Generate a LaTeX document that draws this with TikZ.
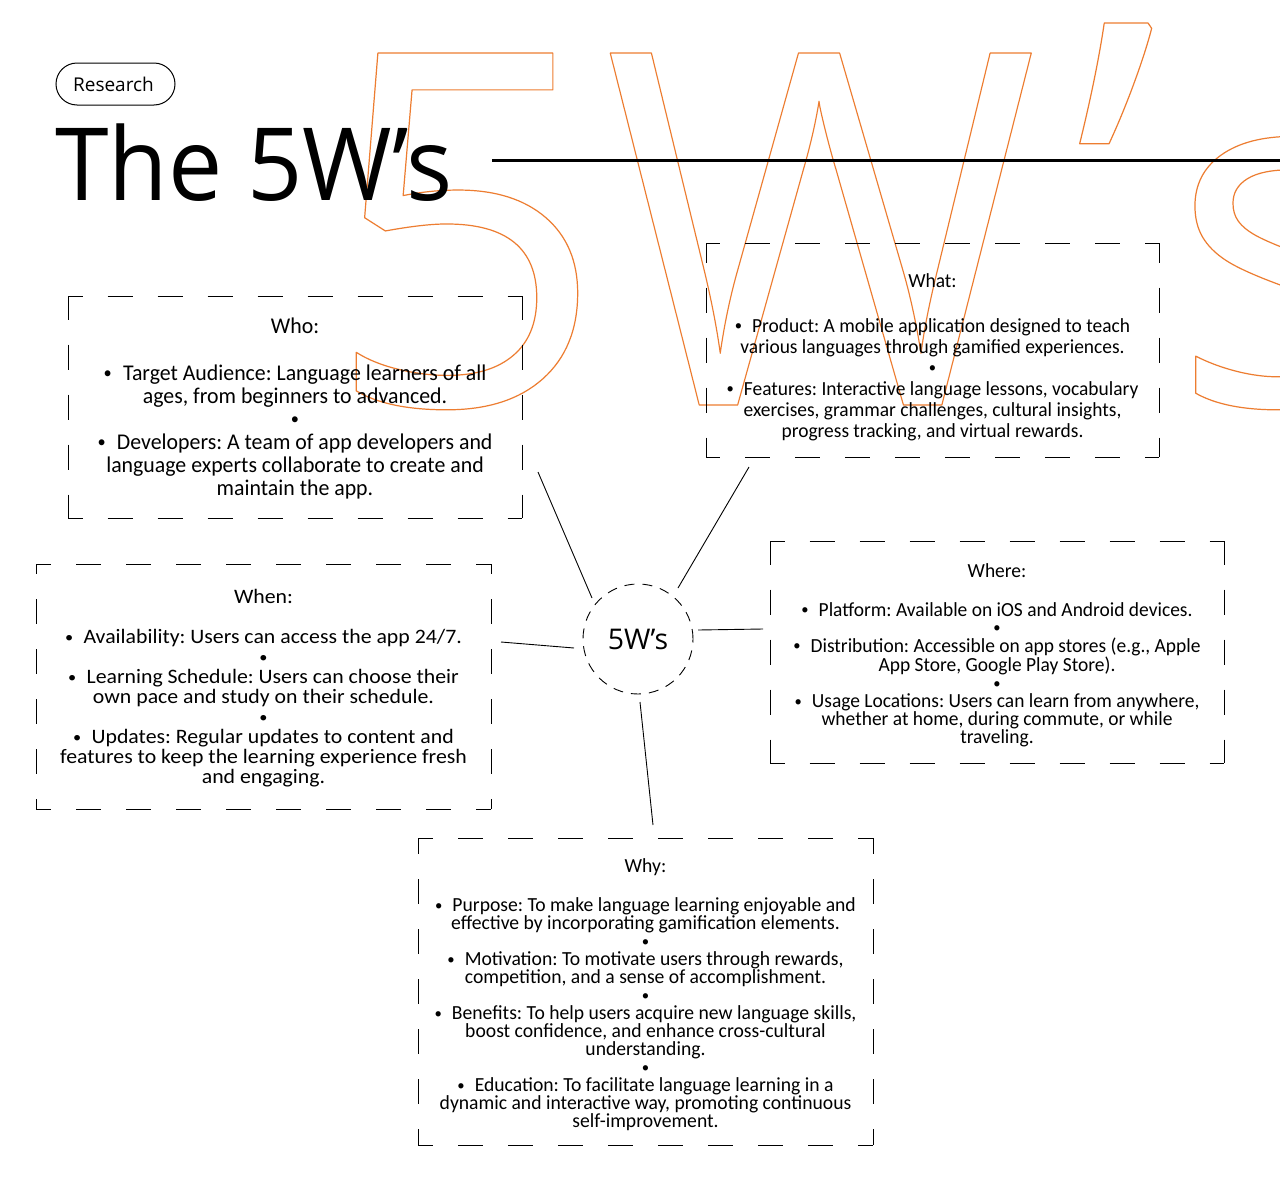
\documentclass[tikz,border=0pt]{standalone}
\usepackage{fontspec}
\usepackage{graphicx}
\setmainfont{Carlito}
\newfontfamily\headfont{Open Sans}
\newfontfamily\titlefont[FakeStretch=0.958]{Open Sans}
\newfontfamily\whofont[FakeStretch=0.97]{Carlito}
\newfontfamily\whatfont[FakeStretch=0.972]{Carlito}
\newfontfamily\whenfont[FakeStretch=1.063]{Carlito}
\newfontfamily\wherefont[FakeStretch=0.973]{Carlito}
\newfontfamily\whyfont[FakeStretch=0.982]{Carlito}
\definecolor{accent}{HTML}{ED7D31}
\newcommand\bdot{\raisebox{0.08em}{\scalebox{0.75}{•}}}
\newcommand\bul{\bdot\hspace{0.5em}}
\frenchspacing
\tikzset{
  area/.style={rectangle, inner sep=0pt, outer sep=0pt},
  boxside/.style={line width=1pt, dash pattern=on 25pt off 25pt, dash phase=#1},
  body/.style={align=center, inner sep=0pt, outer sep=0pt, anchor=north, text=black},
  spoke/.style={line width=0.9pt},
}
\newcommand\dashframe[3]{%
  \draw[boxside=#2] (#1.north west) -- (#1.north east);
  \draw[boxside=#2] (#1.south west) -- (#1.south east);
  \draw[boxside=#3] (#1.north west) -- (#1.south west);
  \draw[boxside=#3] (#1.north east) -- (#1.south east);}
\begin{document}
\begin{tikzpicture}[x=1pt,y=-1pt]
\useasboundingbox (0,0) rectangle (1280,1178);
\clip (0,0) rectangle (1280,1178);
\fill[white] (0,0) rectangle (1280,1178);

% background outline lettering
\node[anchor=base west, inner sep=0pt, text=accent] (bigtext) at (324,405)
  {\headfont\fontsize{493}{493}\selectfont\special{pdf:literal direct 1 Tr 1.2 w 1 j}5\kern-2pt\scalebox{0.95}[1]{W}\kern36pt\raisebox{30pt}{’}\kern12pt s\special{pdf:literal direct 0 Tr}};

% header
\node[draw, line width=1pt, rounded corners=21pt, minimum width=119pt, minimum height=42pt,
  inner sep=0pt, font=\headfont\fontsize{19}{19}\selectfont] (tag) at (115.5,84) {\hspace{-4pt}Research};
\node[anchor=base west, inner sep=0pt, font=\titlefont\fontsize{101}{101}\selectfont] (title) at (55,200) {The 5W’s};
\coordinate (rule-l) at (492,160);
\coordinate (rule-r) at (1280,160);
\draw[line width=3pt] (rule-l) -- (rule-r);

% boxes
\node[area, minimum width=454pt, minimum height=222pt] (who) at (295,407) {};
\node[area, minimum width=453pt, minimum height=214pt] (what) at (932.5,350) {};
\node[area, minimum width=455pt, minimum height=245pt] (when) at (263.5,686.5) {};
\node[area, minimum width=454pt, minimum height=222pt] (where) at (997,652) {};
\node[area, minimum width=455pt, minimum height=307pt] (why) at (645.5,991.5) {};
\dashframe{who}{10.5}{1.5}
\dashframe{what}{11}{5.5}
\dashframe{when}{10}{15}
\dashframe{where}{10.5}{1.5}
\dashframe{why}{10}{9}

% texts
\node[body, font=\whofont\fontsize{22.5}{23}\selectfont] (who-t) at (295,318) {%
Who:\\[23.7pt]
\bul Target Audience: Language learners of all\\
ages, from beginners to advanced.\\
\bdot\\
\bul Developers: A team of app developers and\\
language experts collaborate to create and\\
maintain the app.};

\node[body, font=\whatfont\fontsize{20}{21}\selectfont] (what-t) at (932.5,274) {%
What:\\[23.3pt]
\bul Product: A mobile application designed to teach\\
various languages through gamified experiences.\\
\bdot\\
\bul Features: Interactive language lessons, vocabulary\\
exercises, grammar challenges, cultural insights,\\
progress tracking, and virtual rewards.};

\node[body, font=\whenfont\fontsize{20.5}{20}\selectfont] (when-t) at (263.5,589) {%
When:\\[20.7pt]
\bul Availability: Users can access the app 24/7.\\
\bdot\\
\bul Learning Schedule: Users can choose their\\
own pace and study on their schedule.\\
\bdot\\
\bul Updates: Regular updates to content and\\
features to keep the learning experience fresh\\
and engaging.};

\node[body, font=\wherefont\fontsize{20}{18}\selectfont] (where-t) at (997,564) {%
Where:\\[20.7pt]
\bul Platform: Available on iOS and Android devices.\\
\bdot\\
\bul Distribution: Accessible on app stores (e.g., Apple\\
App Store, Google Play Store).\\
\bdot\\
\bul Usage Locations: Users can learn from anywhere,\\
whether at home, during commute, or while\\
traveling.};

\node[body, font=\whyfont\fontsize{20}{18}\selectfont] (why-t) at (645.5,859) {%
Why:\\[21pt]
\bul Purpose: To make language learning enjoyable and\\
effective by incorporating gamification elements.\\
\bdot\\
\bul Motivation: To motivate users through rewards,\\
competition, and a sense of accomplishment.\\
\bdot\\
\bul Benefits: To help users acquire new language skills,\\
boost confidence, and enhance cross-cultural\\
understanding.\\
\bdot\\
\bul Education: To facilitate language learning in a\\
dynamic and interactive way, promoting continuous\\
self-improvement.};

% hub
\node[circle, draw, line width=0.9pt, dash pattern=on 10pt off 8pt, minimum size=110pt, inner sep=0pt,
  font=\headfont\fontsize{28.5}{28.5}\selectfont] (hub) at (638,639) {5W’s};

% spokes
\coordinate (who-end) at (538,472);   \coordinate (hub-who) at (592,598);
\coordinate (what-end) at (749,467);  \coordinate (hub-what) at (678,588);
\coordinate (when-end) at (501,642);  \coordinate (hub-when) at (574,648);
\coordinate (where-end) at (763,629); \coordinate (hub-where) at (698,630);
\coordinate (why-end) at (653,825);   \coordinate (hub-why) at (640,702);
\draw[spoke] (who-end) -- (hub-who);
\draw[spoke] (what-end) -- (hub-what);
\draw[spoke] (when-end) -- (hub-when);
\draw[spoke] (where-end) -- (hub-where);
\draw[spoke] (why-end) -- (hub-why);
\end{tikzpicture}
\end{document}
